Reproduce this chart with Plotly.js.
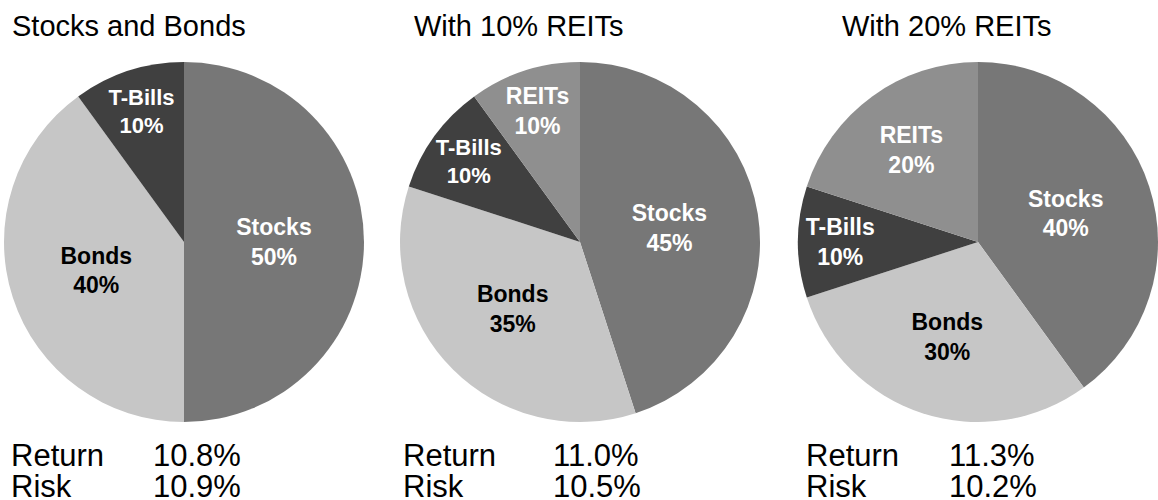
<!DOCTYPE html>
<html>
<head>
<meta charset="utf-8">
<script src="https://cdn.plot.ly/plotly-3.0.1.min.js"></script>
<style>html,body{margin:0;padding:0;background:#fff;}#chart{width:1158px;height:500px;}</style>
</head>
<body>
<div id="chart"></div>
<script>
// ---- data ----
var titles = ["Stocks and Bonds", "With 10% REITs", "With 20% REITs"];
var labels1 = ["Stocks", "Bonds", "T-Bills"];
var values1 = [50, 40, 10];
var labels2 = ["Stocks", "Bonds", "T-Bills", "REITs"];
var values2 = [45, 35, 10, 10];
var labels3 = ["Stocks", "Bonds", "T-Bills", "REITs"];
var values3 = [40, 30, 10, 20];
var returns = [10.8, 11.0, 11.3];
var risks = [10.9, 10.5, 10.2];
var rowLabels = ["Return", "Risk"];

// ---- style ----
var W = 1158, H = 500;
var colorMap = {"Stocks": "#777777", "Bonds": "#c6c6c6", "T-Bills": "#404040", "REITs": "#8f8f8f"};
var textColorMap = {"Stocks": "#ffffff", "Bonds": "#000000", "T-Bills": "#ffffff", "REITs": "#ffffff"};
var centersX = [184, 580, 978];
var centerY = 242;
var R = 180;
var titleX = [10, 412, 840];
var labelX = [9, 401, 804];
var valueX = [151, 551, 947];

function dom(cx) {
  return {
    x: [(cx - R) / W, (cx + R) / W],
    y: [1 - (centerY + R) / H, 1 - (centerY - R) / H]
  };
}

var sets = [[labels1, values1], [labels2, values2], [labels3, values3]];
var traces = sets.map(function (s, i) {
  return {
    type: "pie",
    labels: s[0],
    values: s[1],
    sort: false,
    direction: "clockwise",
    rotation: 0,
    domain: dom(centersX[i]),
    marker: {colors: s[0].map(function (l) { return colorMap[l]; }), line: {width: 0}},
    textinfo: "label+percent",
    textposition: "inside",
    insidetextorientation: "horizontal",
    texttemplate: "<b>%{label}</b><br><b>%{percent:.0%}</b>",
    insidetextfont: {family: "Liberation Sans, Arial, sans-serif", size: 23,
      color: s[0].map(function (l) { return textColorMap[l]; })},
    hoverinfo: "label+percent",
    showlegend: false
  };
});

var annotations = [];
function px(x) { return x / W; }
function py(y) { return 1 - y / H; }
titles.forEach(function (t, i) {
  annotations.push({text: t, x: px(titleX[i]), y: py(26), xref: "paper", yref: "paper",
    xanchor: "left", yanchor: "middle", showarrow: false,
    font: {family: "Liberation Sans, Arial, sans-serif", size: 29, color: "#000"}});
});
for (var i = 0; i < 3; i++) {
  var vals = [returns[i], risks[i]];
  var ys = [455, 486];
  for (var j = 0; j < 2; j++) {
    annotations.push({text: rowLabels[j], x: px(labelX[i]), y: py(ys[j]), xref: "paper", yref: "paper",
      xanchor: "left", yanchor: "middle", showarrow: false,
      font: {family: "Liberation Sans, Arial, sans-serif", size: 31, color: "#000"}});
    annotations.push({text: vals[j].toFixed(1) + "%", x: px(valueX[i]), y: py(ys[j]), xref: "paper", yref: "paper",
      xanchor: "left", yanchor: "middle", showarrow: false,
      font: {family: "Liberation Sans, Arial, sans-serif", size: 31, color: "#000"}});
  }
}

var layout = {
  width: W, height: H,
  margin: {l: 0, r: 0, t: 0, b: 0},
  paper_bgcolor: "#fff",
  plot_bgcolor: "#fff",
  annotations: annotations,
  showlegend: false
};

Plotly.newPlot("chart", traces, layout, {displayModeBar: false, staticPlot: true});
</script>
</body>
</html>
